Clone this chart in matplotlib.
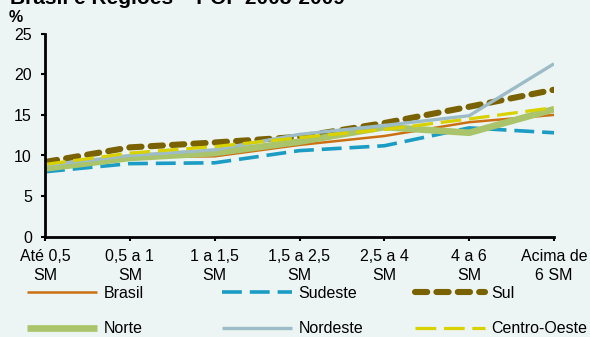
import matplotlib
matplotlib.use("Agg")
import matplotlib.pyplot as plt

plt.rcParams['font.family'] = ['Liberation Sans', 'DejaVu Sans']

# faixas de rendimento (salários mínimos)
faixas = ['Até 0,5\nSM', '0,5 a 1\nSM', '1 a 1,5\nSM', '1,5 a 2,5\nSM',
          '2,5 a 4\nSM', '4 a 6\nSM', 'Acima de\n6 SM']

brasil = [8.6, 9.8, 9.9, 11.3, 12.4, 14.1, 15.0]
sudeste = [8.0, 9.0, 9.1, 10.6, 11.2, 13.4, 12.8]
sul = [9.2, 11.0, 11.6, 12.3, 14.0, 16.0, 18.1]
norte = [8.4, 9.7, 10.3, 11.7, 13.5, 12.8, 15.7]
nordeste = [8.8, 10.0, 10.7, 12.6, 13.7, 14.9, 21.3]
centro_oeste = [8.9, 10.3, 11.1, 12.2, 13.2, 14.5, 15.9]

fs = 11.5
bg = '#ecf5f3'
fig = plt.figure(figsize=(5.9, 3.37), dpi=100, facecolor=bg)
ax = fig.add_axes([45 / 590, 1 - 236.7 / 337, 509 / 590, 203 / 337])
ax.set_facecolor(bg)

x = list(range(len(faixas)))
series = [
    ('Brasil', brasil, dict(color='#cc6f12', lw=1.8)),
    ('Sudeste', sudeste, dict(color='#1a9cc4', lw=2.6, dashes=(5.5, 2.2))),
    ('Sul', sul, dict(color='#7a6200', lw=4.4, dashes=(2.0, 1.5),
                      dash_capstyle='round')),
    ('Norte', norte, dict(color='#a9c46a', lw=4.8)),
    ('Nordeste', nordeste, dict(color='#9dbcc8', lw=2.4)),
    ('Centro-Oeste', centro_oeste, dict(color='#d9d200', lw=2.3,
                                        dashes=(6.5, 2.4))),
]
lines = {}
for name, vals, style in series:
    lines[name], = ax.plot(x, vals, solid_capstyle='butt', **style)

ax.set_xlim(0, 6)
ax.set_ylim(0, 25)
ax.set_yticks([0, 5, 10, 15, 20, 25])
ax.set_xticks(x)
ax.set_xticklabels(faixas, fontsize=fs, linespacing=1.35)
ax.tick_params(axis='y', labelsize=fs, length=3, width=1.5, pad=6.5)
ax.tick_params(axis='x', length=3, width=1.5, pad=5.5)
for s in ['top', 'right']:
    ax.spines[s].set_visible(False)
for s in ['left', 'bottom']:
    ax.spines[s].set_linewidth(2)

fig.text(9 / 590, 1 - 17 / 337, '%', fontsize=fs, fontweight='bold',
         va='center', ha='left')
fig.text(10 / 590, 1 - 4 / 337, 'Brasil e Regiões – POF 2008-2009',
         fontsize=15, fontweight='bold', va='baseline', ha='left')

# legenda em três colunas
cols = [['Brasil', 'Norte'], ['Sudeste', 'Nordeste'], ['Sul', 'Centro-Oeste']]
lefts = [27, 222, 415]
for names, left in zip(cols, lefts):
    fig.legend([lines[n] for n in names], names, loc='upper left',
               bbox_to_anchor=(left / 590, 1 - 286 / 337), frameon=False,
               fontsize=fs, handlelength=4.4, handletextpad=0.4,
               labelspacing=1.28, borderaxespad=0, borderpad=0)

fig.savefig('out.png', dpi=100, facecolor=bg)
